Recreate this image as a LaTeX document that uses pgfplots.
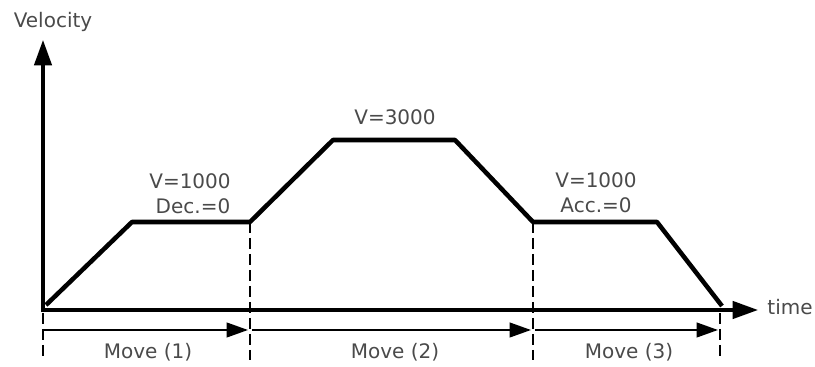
\documentclass[border=0pt]{standalone}
\usepackage{pgfplots}
\pgfplotsset{compat=1.18}
\usepackage{fontspec}
\setmainfont{DejaVu Sans}
\usetikzlibrary{arrows.meta}
\definecolor{txt}{HTML}{4A4A4A}
\tikzset{lbl/.style={font=\fontsize{15}{17}\selectfont, text=txt, inner sep=0pt}}
\begin{document}
\begin{tikzpicture}
\begin{axis}[
    scale only axis,
    width=611.25pt, height=275.25pt,
    xmin=-43, xmax=772,
    ymin=-57, ymax=310,
    hide axis,
    clip=false,
]
% keep bounding box
\addplot [draw=none] coordinates {(-43,-57) (772,310)};
% axes
\addplot [line width=2.5pt, -{Triangle[length=19pt,width=13pt]}] coordinates {(0,-2) (0,270)};
\addplot [line width=2.5pt, -{Triangle[length=19pt,width=13pt]}] coordinates {(0,0) (715,0)};
% velocity profile
\addplot [line width=3.4pt, line join=round] coordinates {
    (3,5) (89,88) (207,88) (290,170) (412,170) (490,88) (614,88) (679,4)
};
% dashed separators
\addplot [line width=1.1pt, dash pattern=on 8pt off 4pt] coordinates {(207,88) (207,-50)};
\addplot [line width=1.1pt, dash pattern=on 8pt off 4pt] coordinates {(490,88) (490,-50)};
\addplot [line width=1.1pt, dash pattern=on 8pt off 4pt] coordinates {(0,-3) (0,-50)};
\addplot [line width=1.1pt, dash pattern=on 8pt off 4pt] coordinates {(677,-3) (677,-50)};
% move arrows
\addplot [line width=1.5pt, -{Triangle[length=16pt,width=11pt]}] coordinates {(0,-20) (205,-20)};
\addplot [line width=1.5pt, -{Triangle[length=16pt,width=11pt]}] coordinates {(209,-20) (488,-20)};
\addplot [line width=1.5pt, -{Triangle[length=16pt,width=11pt]}] coordinates {(492,-20) (675,-20)};
% labels
\node[lbl] at (axis cs:10,288) {Velocity};
\node[lbl] at (axis cs:747,3) {time};
\node[lbl] at (axis cs:147,129) {V=1000};
\node[lbl] at (axis cs:150,104) {Dec.=0};
\node[lbl] at (axis cs:352,193) {V=3000};
\node[lbl] at (axis cs:553,130) {V=1000};
\node[lbl] at (axis cs:553,105) {Acc.=0};
\node[lbl] at (axis cs:105,-42) {Move (1)};
\node[lbl] at (axis cs:352,-42) {Move (2)};
\node[lbl] at (axis cs:586,-42) {Move (3)};
\end{axis}
\end{tikzpicture}
\end{document}
